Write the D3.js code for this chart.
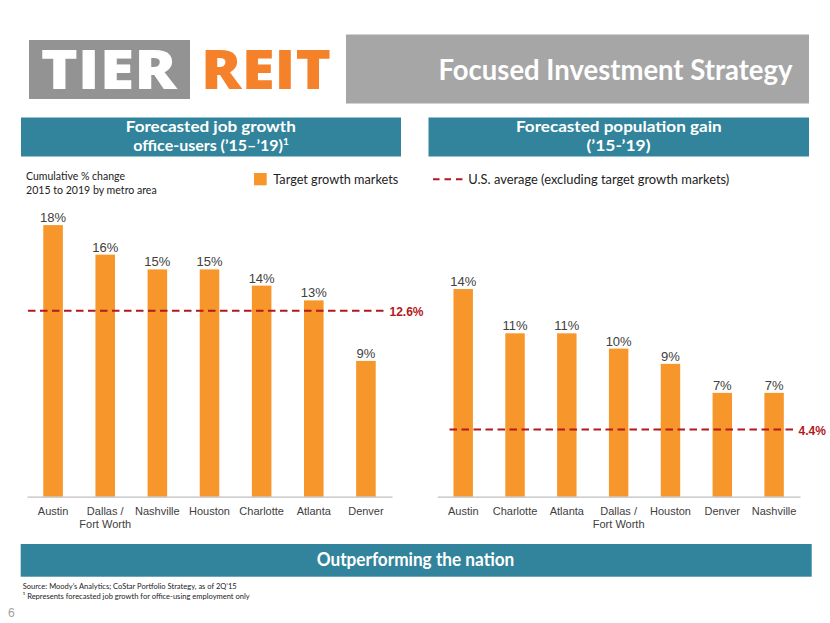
<!DOCTYPE html>
<html><head><meta charset="utf-8">
<script src="https://cdn.jsdelivr.net/npm/d3@7"></script>
<style>body{margin:0;background:#fff}svg{display:block}</style>
</head><body>
<svg id="c" width="830" height="623"></svg>
<script>
// ---- data ----
const jobCities = ["Austin", "Dallas /\nFort Worth", "Nashville", "Houston", "Charlotte", "Atlanta", "Denver"];
const jobGrowth = [18.4, 16.4, 15.4, 15.4, 14.3, 13.3, 9.2];
const jobAverage = 12.6;
const popCities = ["Austin", "Charlotte", "Atlanta", "Dallas /\nFort Worth", "Houston", "Denver", "Nashville"];
const popGain = [13.6, 10.7, 10.7, 9.7, 8.7, 6.8, 6.8];
const popAverage = 4.4;

const ORANGE = "#f7962b", TEAL = "#31849b", RED = "#b3191c";
const svg = d3.select("#c");
const headFont = "Lato, 'Open Sans', sans-serif";
const chartFont = "'Liberation Sans', Arial, sans-serif";

function txt(x, y, s, o) {
  const t = svg.append("text").attr("x", x).attr("y", y).text(s)
    .attr("font-family", o.font || headFont).attr("font-size", o.size)
    .attr("font-weight", o.weight || "normal").attr("fill", o.fill || "#222")
    .attr("text-anchor", o.anchor || "start");
  if (o.len) t.attr("textLength", o.len).attr("lengthAdjust", "spacingAndGlyphs");
  return t;
}

// ---- header ----
svg.append("rect").attr("x", 29).attr("y", 40).attr("width", 161).attr("height", 59).attr("fill", "#939393");
txt(40.7, 89, "TIER", {size: 55, weight: 800, fill: "#fff", len: 136, font: "'Open Sans', sans-serif"});
txt(201, 89, "REIT", {size: 55, weight: 800, fill: "#f5822a", len: 130, font: "'Open Sans', sans-serif"});
svg.append("rect").attr("x", 346).attr("y", 34.5).attr("width", 463).attr("height", 69).attr("fill", "#a6a6a6");
txt(438.5, 80, "Focused Investment Strategy", {size: 28, weight: 700, fill: "#fff", len: 354});

// section headers
svg.append("rect").attr("x", 21).attr("y", 117.5).attr("width", 380).attr("height", 39).attr("fill", TEAL);
svg.append("rect").attr("x", 428.5).attr("y", 117.5).attr("width", 380.5).attr("height", 39).attr("fill", TEAL);
txt(210.8, 132, "Forecasted job growth", {size: 16, weight: 700, fill: "#fff", anchor: "middle", len: 170});
const h2 = txt(211, 151, "office-users (\u201915\u2013\u201919)", {size: 16, weight: 700, fill: "#fff", anchor: "middle"});
h2.append("tspan").attr("font-size", 10).attr("dy", -6).text("1");
txt(618.8, 132, "Forecasted population gain", {size: 16, weight: 700, fill: "#fff", anchor: "middle", len: 205.7});
txt(618.5, 151, "(\u201915-\u201919)", {size: 16, weight: 700, fill: "#fff", anchor: "middle", len: 64});

// subtitle + legends
txt(26, 180, "Cumulative % change", {size: 11, fill: "#222", len: 99});
txt(26, 193.5, "2015 to 2019 by metro area", {size: 11, fill: "#222", len: 130.7});
svg.append("rect").attr("x", 254).attr("y", 173).attr("width", 12.7).attr("height", 12.3).attr("fill", ORANGE);
txt(273.3, 183.5, "Target growth markets", {size: 13, fill: "#222", len: 125});
svg.append("line").attr("x1", 433).attr("x2", 463).attr("y1", 179.3).attr("y2", 179.3)
  .attr("stroke", RED).attr("stroke-width", 2).attr("stroke-dasharray", "6.5,5");
txt(468.3, 184, "U.S. average (excluding target growth markets)", {size: 13, fill: "#222", len: 261});

// ---- charts ----
const baseY = 496.7;
function chart(cats, vals, avg, x0, x1, pxPer, lineX0, lineX1, labelX) {
  const x = d3.scaleBand().domain(cats).range([x0, x1]).paddingInner(0.625).paddingOuter(0.3125);
  const y = d3.scaleLinear().domain([0, 20]).range([baseY, baseY - 20 * pxPer]);
  const g = svg.append("g");
  g.selectAll("rect.bar").data(vals).join("rect").attr("class", "bar")
    .attr("x", (d, i) => x(cats[i])).attr("width", x.bandwidth())
    .attr("y", d => y(d)).attr("height", d => baseY - y(d)).attr("fill", ORANGE);
  g.selectAll("text.val").data(vals).join("text").attr("class", "val")
    .attr("x", (d, i) => x(cats[i]) + x.bandwidth() / 2).attr("y", d => y(d) - 3)
    .attr("text-anchor", "middle").attr("font-family", chartFont).attr("font-size", 13)
    .attr("fill", "#404040").text(d => Math.round(d) + "%");
  // axis
  const ax = g.append("g").attr("transform", `translate(0,${baseY})`)
    .call(d3.axisBottom(x).tickSize(0).tickFormat(""));
  ax.select(".domain").attr("stroke", "#bfbfbf").attr("stroke-width", 1.3);
  ax.selectAll(".tick").each(function(c) {
    const t = d3.select(this).append("text").attr("y", 18).attr("text-anchor", "middle")
      .attr("font-family", chartFont).attr("font-size", 11).attr("fill", "#404040");
    c.split("\n").forEach((s, i) => t.append("tspan").attr("x", 0).attr("dy", i ? 13 : 0).text(s));
  });
  // average line
  g.append("line").attr("x1", lineX0).attr("x2", lineX1).attr("y1", y(avg)).attr("y2", y(avg))
    .attr("stroke", RED).attr("stroke-width", 2).attr("stroke-dasharray", "7.5,4.5");
  g.append("text").attr("x", labelX).attr("y", y(avg) + 5).attr("font-family", chartFont)
    .attr("font-size", 12).attr("font-weight", 700).attr("fill", RED).text(avg.toFixed(1) + "%");
}
chart(jobCities, jobGrowth, jobAverage, 27, 392, 14.76, 28, 384, 389.5);
chart(popCities, popGain, popAverage, 437.3, 800, 15.27, 449.5, 794, 798.5);

// ---- bottom banner ----
svg.append("rect").attr("x", 20.7).attr("y", 544).attr("width", 791).attr("height", 32.7).attr("fill", TEAL);
txt(415.5, 566, "Outperforming the nation", {size: 18, weight: 700, fill: "#fff", anchor: "middle", len: 197.6});
txt(22.7, 588.5, "Source: Moody\u2019s Analytics; CoStar Portfolio Strategy, as of 2Q\u201915", {size: 8, fill: "#222", len: 214});
txt(22.7, 598.5, "\u00b9 Represents forecasted job growth for office-using employment only", {size: 8, fill: "#222", len: 227});
txt(8, 617, "6", {size: 12, fill: "#a0a0a0", font: chartFont});
</script>
</body></html>
